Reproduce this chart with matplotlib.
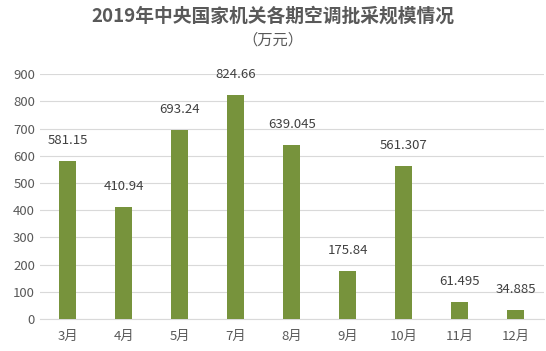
import matplotlib.pyplot as plt

plt.rcParams['font.family'] = ['Noto Sans CJK SC', 'DejaVu Sans']

# data
months = ["3月", "4月", "5月", "7月", "8月", "9月", "10月", "11月", "12月"]
amounts = [581.15, 410.94, 693.24, 824.66, 639.045, 175.84, 561.307, 61.495, 34.885]
amount_labels = ["581.15", "410.94", "693.24", "824.66", "639.045", "175.84", "561.307", "61.495", "34.885"]

fig = plt.figure(figsize=(5.46, 3.51), dpi=100)
ax = fig.add_axes([0.073, 0.091, 0.923, 0.698])

x = range(len(months))
ax.bar(x, amounts, width=0.3, color="#77933C", zorder=3)
for i, (v, s) in enumerate(zip(amounts, amount_labels)):
    ax.annotate(s, (i, v), xytext=(0, 10), textcoords="offset points",
                ha="center", va="bottom", fontsize=9.5, color="#404040")

ax.set_xlim(-0.5, len(months) - 0.5)
ax.set_ylim(0, 900)
ax.set_yticks(range(0, 901, 100))
ax.set_xticks(list(x))
ax.set_xticklabels(months)
ax.grid(axis="y", color="#D9D9D9", linewidth=0.8, zorder=0)
for sp in ["top", "right", "left"]:
    ax.spines[sp].set_visible(False)
ax.spines["bottom"].set_color("#D9D9D9")
ax.tick_params(axis="both", length=0, colors="#595959", labelsize=9.5)
ax.tick_params(axis="x", pad=8)

fig.text(0.5, 0.955, "2019年中央国家机关各期空调批采规模情况", ha="center", va="center",
         fontsize=13.5, fontweight="bold", color="#595959")
fig.text(0.5, 0.885, "（万元）", ha="center", va="center", fontsize=11, color="#595959")

fig.savefig("out.png", dpi=100)
